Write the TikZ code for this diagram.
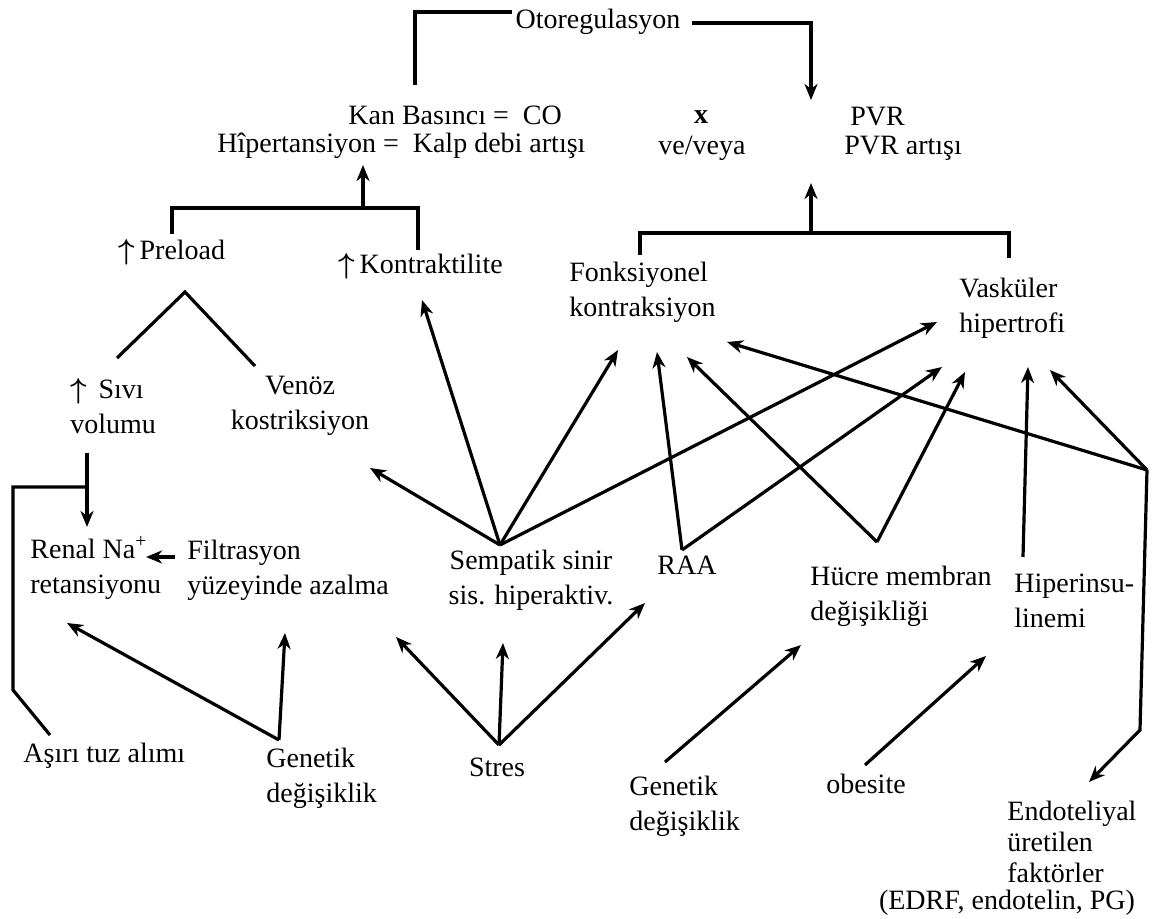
\documentclass[tikz,border=0pt]{standalone}
\usepackage{fontspec}
\setmainfont{Liberation Serif}
\usetikzlibrary{arrows.meta,positioning}

\newcommand{\incr}{{\boldmath$\uparrow$}\,}

\begin{document}
\begin{tikzpicture}[
      x=0.5pt, y=-0.5pt,
      txt/.style={inner sep=1pt, align=left, font=\fontsize{14}{17.5}\selectfont},
      ctxt/.style={txt, align=center},
      conn/.style={draw, line width=1.6pt},
      arr/.style={conn, -{Stealth[length=8pt,width=6.5pt,inset=2.5pt]}},
    ]
    \useasboundingbox (0,0) rectangle (1152,919);

    % top row
    \node[ctxt] (oto) at (598,22) {Otoregulasyon};
    \node[txt, anchor=west] (kan) at (346,115) {Kan Basıncı = \ CO};
    \node[txt, anchor=west] (hiper) at (215,146) {Hîpertansiyon = \ Kalp debi artışı};
    \node[ctxt] (xnode) at (701,117) {\textbf{x}};
    \node[ctxt] (veya) at (702,148) {ve/veya};
    \node[txt, anchor=west] (pvr) at (848,117) {PVR};
    \node[txt, anchor=west] (pvrart) at (842,148) {PVR artışı};

    % middle rows
    \node[txt, anchor=west] (preload) at (116,252) {\incr Preload};
    \node[txt, anchor=west] (kontr) at (336,266) {\incr Kontraktilite};
    \node[txt, anchor=west] (fonk) at (567,292) {Fonksiyonel\\kontraksiyon};
    \node[txt, anchor=west] (vask) at (957,308) {Vasküler\\hipertrofi};
    \node[txt, anchor=west] (sivi) at (68,406) {\incr\ Sıvı\\volumu};
    \node[ctxt] (venoz) at (300,406) {Venöz\\kostriksiyon};
    \node[txt, anchor=west] (renal) at (28,568) {Renal Na\textsuperscript{+}\\retansiyonu};
    \node[txt, anchor=west] (filt) at (185,570) {Filtrasyon\\yüzeyinde azalma};
    \node[ctxt] (semp) at (531,580) {Sempatik sinir\\sis. hiperaktiv.};
    \node[txt, anchor=west] (raa) at (655,565) {RAA};
    \node[txt, anchor=west] (hucre) at (808,596) {Hücre membran\\değişikliği};
    \node[txt, anchor=west] (hiperins) at (1012,601) {Hiperinsu-\\linemi};

    % bottom row
    \node[txt, anchor=west] (asiri) at (21,756) {Aşırı tuz alımı};
    \node[txt, anchor=west] (gen1) at (264,778) {Genetik\\değişiklik};
    \node[ctxt] (stres) at (497,767) {Stres};
    \node[txt, anchor=west] (gen2) at (627,806) {Genetik\\değişiklik};
    \node[txt, anchor=west] (obes) at (824,784) {obesite};
    \node[txt, anchor=west, font=\fontsize{14}{15.5}\selectfont] (endo) at (1005,842) {Endoteliyal\\üretilen\\faktörler};
    \node[ctxt] (edrf) at (1007,903) {(EDRF, endotelin, PG)};
    \coordinate (endoJ) at (1147,470);

    % otoregulasyon loop
    \draw[conn] ([shift={(69,-30)}]kan.west) |- ([shift={(-86,-10)}]oto.center);
    \draw[arr] ([shift={(94,1)}]oto.center) -| ([shift={(-37,-17)}]pvr.west);

    % brackets
    \draw[conn] ([shift={(56,-18)}]preload.west) |- ([shift={(82,-58)}]kontr.west)
      -- ([shift={(82,-16)}]kontr.west);
    \draw[arr] ([shift={(148,62)}]hiper.west) -- ([shift={(148,19)}]hiper.west);
    \draw[conn] ([shift={(73,-37)}]fonk.west) |- ([shift={(52,-75)}]vask.west)
      -- ([shift={(52,-50)}]vask.west);
    \draw[arr] ([shift={(-31,83)}]pvrart.west) -- ([shift={(-31,35)}]pvrart.west);

    % preload split
    \draw[conn] ([shift={(49,-48)}]sivi.west) -- ([shift={(69,40)}]preload.west)
      -- ([shift={(-45,-40)}]venoz.center);

    % renal
    \draw[arr] ([shift={(19,47)}]sivi.west) -- ([shift={(59,-41)}]renal.west);
    \draw[conn] ([shift={(29,-21)}]asiri.west) -- ++(-37,-45) |- ([shift={(19,81)}]sivi.west);
    \draw[arr] ([shift={(-10,-13)}]filt.west) -- ([shift={(118,-11)}]renal.west);
    \draw[arr] ([shift={(15,-38)}]gen1.west) -- ([shift={(39,55)}]renal.west);
    \draw[arr] ([shift={(15,-38)}]gen1.west) -- ([shift={(100,63)}]filt.west);

    % stres
    \draw[arr] ([shift={(2,-22)}]stres.center) -- ([shift={(211,67)}]filt.west);
    \draw[arr] ([shift={(2,-22)}]stres.center) -- ([shift={(-28,63)}]semp.center);
    \draw[arr] ([shift={(2,-22)}]stres.center) -- ([shift={(-10,38)}]raa.west);

    % sempatik
    \draw[arr] ([shift={(-31,-35)}]semp.center) -- ([shift={(70,62)}]venoz.center);
    \draw[arr] ([shift={(-31,-35)}]semp.center) -- ([shift={(86,34)}]kontr.west);
    \draw[arr] ([shift={(-31,-35)}]semp.center) -- ([shift={(51,58)}]fonk.west);
    \draw[arr] ([shift={(-31,-35)}]semp.center) -- ([shift={(-20,14)}]vask.west);

    % RAA, hucre membran, hiperinsulinemi
    \draw[arr] ([shift={(27,-15)}]raa.west) -- ([shift={(90,60)}]fonk.west);
    \draw[arr] ([shift={(27,-15)}]raa.west) -- ([shift={(-15,59)}]vask.west);
    \draw[arr] ([shift={(69,-54)}]hucre.west) -- ([shift={(120,65)}]fonk.west);
    \draw[arr] ([shift={(69,-54)}]hucre.west) -- ([shift={(8,64)}]vask.west);
    \draw[arr] ([shift={(11,-44)}]hiperins.west) -- ([shift={(71,59)}]vask.west);

    % endotel
    \draw[arr] (endoJ) -- ([shift={(160,50)}]fonk.west);
    \draw[arr] (endoJ) -- ([shift={(93,62)}]vask.west);
    \draw[arr] (endoJ) -- ([shift={(135,-112)}]endo.west) -- ([shift={(84,-60)}]endo.west);

    % genetik, obesite
    \draw[arr] ([shift={(38,-44)}]gen2.west) -- ([shift={(-7,49)}]hucre.west);
    \draw[arr] ([shift={(41,-19)}]obes.west) -- ([shift={(-26,55)}]hiperins.west);
  \end{tikzpicture}
\end{document}
